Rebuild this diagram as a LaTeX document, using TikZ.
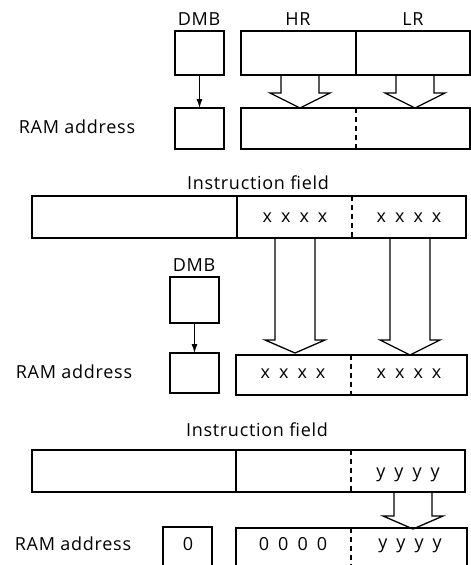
\documentclass[tikz,border=0pt]{standalone}
\usepackage{fontspec}
\setmainfont{Open Sans}[LetterSpace=4]
\usetikzlibrary{arrows.meta}
\newcommand\hollowarr[6]{%
  \draw[hollow] (#1-#5,#2) -- (#1-#5,#3) -- (#1-#6,#3) -- (#1,#4) -- (#1+#6,#3) -- (#1+#5,#3) -- (#1+#5,#2);}
\newcommand\bitsfont{\fontsize{18}{21}\selectfont\spaceskip 9pt\relax}
\begin{document}
\begin{tikzpicture}[x=1pt,y=-1pt, line width=1.3pt,
  box/.style={draw, rectangle, anchor=north west, inner sep=0pt, outer sep=0pt},
  lab/.style={font=\fontsize{18}{21}\selectfont, inner sep=0pt},
  bits/.style={inner sep=0pt},
  ddiv/.style={dash pattern=on 5pt off 4pt},
  hollow/.style={line width=1.3pt, line join=miter},
  link/.style={-{Latex[length=9pt,width=6pt]}, line width=1.1pt}]
\useasboundingbox (0,0) rectangle (471,565);
\clip (0,0) rectangle (471,565);

% ---------- Section 1 ----------
\node[lab] (lDMB1) at (199,19) {DMB};
\node[lab] (lHR) at (298,19) {HR};
\node[lab] (lLR) at (413,19) {LR};
\node[box, minimum width=49pt, minimum height=44pt] (dmbA) at (175,31) {};
\node[box, minimum width=229pt, minimum height=44pt] (regA) at (241,31) {};
\coordinate (dAt) at (356,31); \coordinate (dAb) at (356,75);
\draw (dAt) -- (dAb);
\node[box, minimum width=49pt, minimum height=41pt] (ramA) at (175,108) {};
\node[box, minimum width=229pt, minimum height=41pt] (ramregA) at (241,108) {};
\coordinate (dBt) at (356,108); \coordinate (dBb) at (356,149);
\draw[ddiv] (dBt) -- (dBb);
\node[lab] (lRAM1) at (77,127) {RAM address};
\draw[link] (dmbA.south) -- (ramA.north);
\hollowarr{300}{75}{93}{108}{19}{30}
\hollowarr{415}{75}{93}{108}{19}{30}

% ---------- Section 2 ----------
\node[lab] (lIF1) at (258,183) {Instruction field};
\node[box, minimum width=434pt, minimum height=42pt] (instrB) at (32,196) {};
\coordinate (dCt) at (237,196); \coordinate (dCb) at (237,238);
\draw (dCt) -- (dCb);
\coordinate (dDt) at (352,196); \coordinate (dDb) at (352,238);
\draw[ddiv] (dDt) -- (dDb);
\node[bits] (xA) at (295,218) {\bitsfont x x x x};
\node[bits] (xB) at (409,218) {\bitsfont x x x x};
\node[lab] (lDMB2) at (194,265) {DMB};
\node[box, minimum width=49pt, minimum height=46pt] (dmbB) at (170,277) {};
\node[box, minimum width=49pt, minimum height=40pt] (ramB) at (170,353) {};
\draw[link] (dmbB.south) -- (ramB.north);
\node[box, minimum width=231pt, minimum height=40pt] (ramregB) at (236,355) {};
\coordinate (dEt) at (351,355); \coordinate (dEb) at (351,395);
\draw[ddiv] (dEt) -- (dEb);
\node[bits] (xC) at (293,374) {\bitsfont x x x x};
\node[bits] (xD) at (409,374) {\bitsfont x x x x};
\node[lab] (lRAM2) at (74,372) {RAM address};
\hollowarr{295}{238}{340}{353}{20}{30}
\hollowarr{410}{238}{340}{355}{20}{30}

% ---------- Section 3 ----------
\node[lab] (lIF2) at (257,430) {Instruction field};
\node[box, minimum width=433pt, minimum height=42pt] (instrC) at (32,450) {};
\coordinate (dFt) at (236,450); \coordinate (dFb) at (236,492);
\draw (dFt) -- (dFb);
\coordinate (dGt) at (351,450); \coordinate (dGb) at (351,492);
\draw[ddiv] (dGt) -- (dGb);
\node[bits] (yA) at (408,475) {\bitsfont y y y y};
\hollowarr{413}{492}{516}{529}{19}{30}
\node[box, minimum width=49pt, minimum height=42pt] (ramC) at (163,527) {};
\node[lab] (zA) at (188,544) {0};
\node[box, minimum width=231pt, minimum height=42pt] (ramregC) at (236,528) {};
\coordinate (dHt) at (351,528); \coordinate (dHb) at (351,570);
\draw[ddiv] (dHt) -- (dHb);
\node[bits] (zB) at (293,544) {\bitsfont 0 0 0 0};
\node[bits] (yB) at (410,546) {\bitsfont y y y y};
\node[lab] (lRAM3) at (73,544) {RAM address};
\end{tikzpicture}
\end{document}
